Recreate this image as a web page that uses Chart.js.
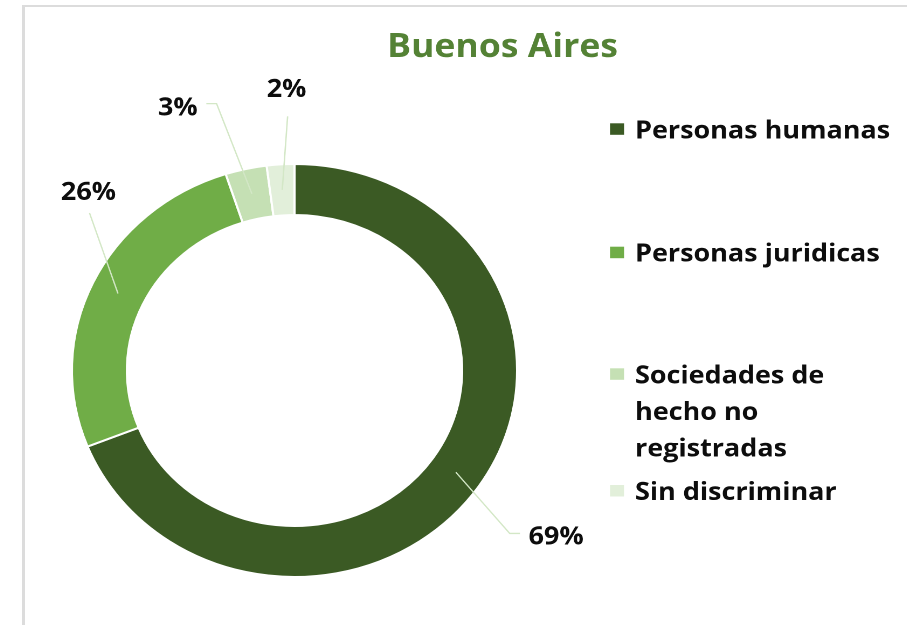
<!DOCTYPE html>
<html>
<head>
<meta charset="utf-8">
<script src="https://cdn.jsdelivr.net/npm/chart.js@4.4.1/dist/chart.umd.min.js"></script>
<style>
  html, body { margin: 0; padding: 0; background: #fff; overflow: hidden; }
  #marco { position: absolute; left: 22px; top: 5px; width: 1000px; height: 700px;
           border-left: 3px solid #dcdcdc; border-top: 2px solid #dcdcdc; }
  /* el original está estirado en horizontal */
  #caja { position: absolute; left: 25px; top: 7px; width: 886px; height: 618px;
          transform: scaleX(1.078); transform-origin: 0 0; }
</style>
</head>
<body>
<div id="marco"></div>
<div id="caja"><canvas id="graficoBA" width="886" height="618"></canvas></div>
<script>
// Datos del gráfico
var titulo = 'Buenos Aires';
var categorias = ['Personas humanas', 'Personas juridicas', ['Sociedades de', 'hecho no', 'registradas'], 'Sin discriminar'];
var porcentajes = [69, 26, 3, 2];
var colores = ['#3B5A24', '#70AD47', '#C5E0B4', '#E2EFDA'];

var fuente = '"Open Sans", sans-serif';

// Título centrado sobre todo el lienzo (no sobre el área del gráfico)
var tituloPlugin = {
    id: 'tituloCentrado',
    afterDraw: function(chart, args, opts) {
        var ctx = chart.ctx;
        ctx.save();
        ctx.font = 'bold 33px ' + fuente;
        ctx.fillStyle = opts.color;
        ctx.textAlign = 'center';
        ctx.textBaseline = 'alphabetic';
        ctx.fillText(opts.texto, chart.width / 2, opts.base);
        ctx.restore();
    }
};

// Etiquetas de porcentaje con líneas guía
var etiquetasPlugin = {
    id: 'etiquetas',
    afterDatasetsDraw: function(chart, args, opts) {
        var ctx = chart.ctx;
        var arcos = chart.getDatasetMeta(0).data;
        var total = porcentajes.reduce(function(a, b) { return a + b; }, 0);
        ctx.save();
        ctx.font = 'bold 25px ' + fuente;
        ctx.textAlign = 'center';
        ctx.textBaseline = 'middle';
        arcos.forEach(function(arco, i) {
            var p = arco.getProps(['x', 'y', 'startAngle', 'endAngle', 'innerRadius', 'outerRadius'], true);
            var cfg = opts.posiciones[i];
            var medio = (p.startAngle + p.endAngle) / 2;
            var rMedio = (p.innerRadius + p.outerRadius) / 2;
            var ax = p.x + Math.cos(medio) * rMedio;
            var ay = p.y + Math.sin(medio) * rMedio;
            var ang = medio + cfg.da * Math.PI / 180;
            var lx = p.x + Math.cos(ang) * p.outerRadius * cfg.r;
            var ly = p.y + Math.sin(ang) * p.outerRadius * cfg.r;
            var texto = Math.round(porcentajes[i] / total * 100) + '%';
            var ancho = ctx.measureText(texto).width;

            ctx.strokeStyle = opts.colorGuia;
            ctx.lineWidth = 1.3;
            ctx.beginPath();
            ctx.moveTo(ax, ay);
            if (cfg.lado === 'izq') {
                var ex = lx - ancho / 2 - 8;
                ctx.lineTo(ex - 9.5, ly - 2);
                ctx.lineTo(ex, ly - 2);
            } else if (cfg.lado === 'der') {
                var ex2 = lx + ancho / 2 + 8;
                ctx.lineTo(ex2 + 9.5, ly - 3);
                ctx.lineTo(ex2, ly - 3);
            } else {
                ctx.lineTo(lx + 1, ly + cfg.dy);
            }
            ctx.stroke();

            ctx.fillStyle = '#0d0d0d';
            ctx.fillText(texto, lx, ly + 1.8);
        });
        ctx.restore();
    }
};

// Leyenda a la derecha (con etiquetas de varias líneas)
var leyendaPlugin = {
    id: 'leyendaLateral',
    afterDraw: function(chart, args, opts) {
        var ctx = chart.ctx;
        ctx.save();
        ctx.font = 'bold 25px ' + fuente;
        ctx.textAlign = 'left';
        ctx.textBaseline = 'alphabetic';
        chart.data.labels.forEach(function(etq, i) {
            var lineas = Array.isArray(etq) ? etq : [etq];
            var base = opts.filas[i];
            ctx.fillStyle = chart.data.datasets[0].backgroundColor[i];
            ctx.fillRect(opts.xMarca, base - 15, 13, 11.5);
            ctx.fillStyle = '#0d0d0d';
            lineas.forEach(function(l, j) {
                ctx.fillText(l, opts.xTexto, base + j * opts.interlinea);
            });
        });
        ctx.restore();
    }
};

var ctx1 = document.getElementById('graficoBA').getContext('2d');
var grafico = new Chart(ctx1, {
    type: 'doughnut',
    data: {
        labels: categorias,
        datasets: [{
            data: porcentajes,
            backgroundColor: colores,
            borderColor: '#ffffff',
            borderWidth: 2
        }]
    },
    options: {
        responsive: false,
        devicePixelRatio: 2,
        animation: false,
        events: [],
        cutout: '75.3%',
        layout: {
            padding: { left: 42.5, right: 428.5, top: 156, bottom: 47 }
        },
        plugins: {
            legend: { display: false },
            tooltip: { enabled: false },
            title: { display: false },
            tituloCentrado: {
                texto: titulo,
                color: '#548235',
                base: 49.8
            },
            etiquetas: {
                colorGuia: '#D3E7C6',
                posiciones: [
                    { r: 1.421, da: 0, lado: 'izq' },
                    { r: 1.270, da: 18, lado: 'abajo', dy: 22 },
                    { r: 1.381, da: -9.7, lado: 'der' },
                    { r: 1.367, da: 2.1, lado: 'abajo', dy: 28 }
                ]
            },
            leyendaLateral: {
                xMarca: 542.7,
                xTexto: 565.9,
                filas: [131.3, 254.7, 376.3, 493],
                interlinea: 36.7
            }
        }
    },
    plugins: [tituloPlugin, etiquetasPlugin, leyendaPlugin]
});
</script>
</body>
</html>
